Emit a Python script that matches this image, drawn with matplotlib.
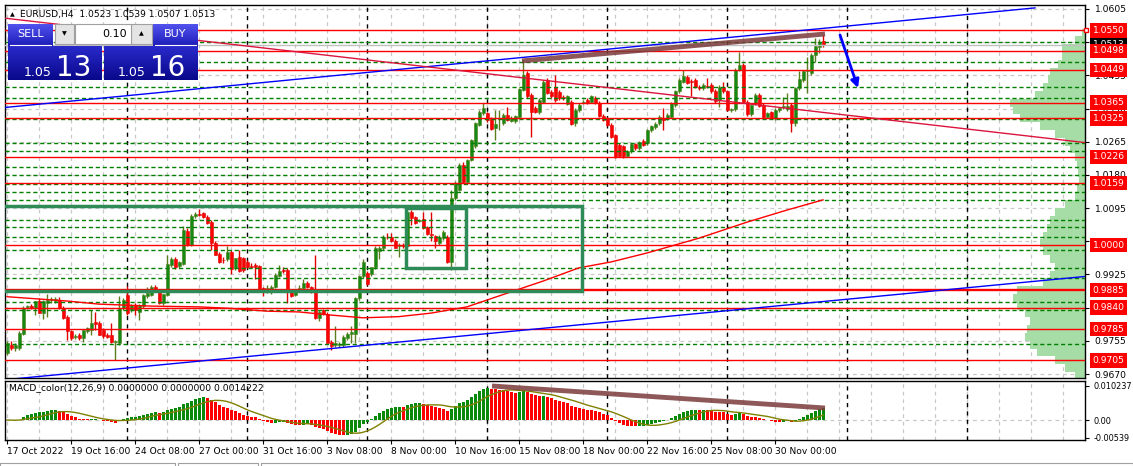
import matplotlib
matplotlib.use("Agg")
import matplotlib.pyplot as plt
import numpy as np
import pandas as pd
from matplotlib.patches import Rectangle
from matplotlib.colors import LinearSegmentedColormap

plt.rcParams["font.family"] = ["DejaVu Sans"]

W, H = 1133, 466
FS = 6.6

# EURUSD H4, one value per bar (bar 0 = 17 Oct 2022 00:00)
opens = [
    .9724, .9745, .9736, .9736, .9773, .9841, .9843, .9839, .9858, .9826,
    .9852, .9860, .9858, .9860, .9839, .9817, .9779, .9765, .9770, .9762,
    .9779, .9783, .9803, .9800, .9783, .9770, .9770, .9752, .9749, .9839,
    .9873, .9835, .9847, .9830, .9843, .9869, .9873, .9892, .9881, .9852,
    .9873, .9950, .9965, .9947, .9952, 1.0037, 1.0001, 1.0075, 1.0080, 1.0082,
    1.0073, 1.0060, 1.0005, .9978, .9963, .9965, .9983, .9941, .9969, .9966,
    .9958, .9947, .9950, .9947, .9890, .9883, .9879, .9894, .9922, .9937,
    .9937, .9881, .9873, .9886, .9890, .9903, .9893, .9881, .9813, .9833,
    .9824, .9753, .9745, .9745, .9745, .9762, .9773, .9773, .9864, .9920,
    .9928, .9926, .9943, .9984, .9992, 1.0022, 1.0020, 1.0011, .9997, 1.0001,
    .9997, 1.0086, 1.0072, 1.0063, 1.0067, 1.0046, 1.0029, 1.0024, 1.0005, 1.0018,
    1.0022, .9958, 1.0120, 1.0142, 1.0206, 1.0163, 1.0219, 1.0253, 1.0308, 1.0338,
    1.0338, 1.0325, 1.0300, 1.0323, 1.0312, 1.0334, 1.0319, 1.0317, 1.0329, 1.0398,
    1.0442, 1.0385, 1.0351, 1.0340, 1.0368, 1.0423, 1.0393, 1.0406, 1.0393, 1.0379,
    1.0362, 1.0368, 1.0312, 1.0347, 1.0365, 1.0372, 1.0368, 1.0378, 1.0365, 1.0331,
    1.0325, 1.0308, 1.0282, 1.0257, 1.0253, 1.0229, 1.0240, 1.0259, 1.0248, 1.0268,
    1.0261, 1.0295, 1.0302, 1.0312, 1.0325, 1.0325, 1.0329, 1.0359, 1.0394, 1.0419,
    1.0432, 1.0421, 1.0423, 1.0406, 1.0402, 1.0408, 1.0410, 1.0395, 1.0372, 1.0406,
    1.0394, 1.0347, 1.0348, 1.0449, 1.0462, 1.0368, 1.0336, 1.0364, 1.0385, 1.0359,
    1.0329, 1.0340, 1.0325, 1.0347, 1.0353, 1.0348, 1.0359, 1.0312, 1.0402, 1.0423,
    1.0445, 1.0440, 1.0487, 1.0507, 1.0523,
]
highs = [
    .9754, .9754, .9749, .9779, .9843, .9847, .9850, .9858, .9864, .9860,
    .9875, .9866, .9866, .9866, .9843, .9820, .9783, .9773, .9775, .9783,
    .9790, .9835, .9830, .9805, .9788, .9775, .9800, .9757, .9869, .9864,
    .9896, .9850, .9852, .9850, .9875, .9894, .9898, .9898, .9886, .9875,
    .9975, .9970, .9970, .9960, 1.0048, 1.0045, 1.0080, 1.0085, 1.0092, 1.0086,
    1.0078, 1.0064, 1.0010, .9982, .9970, .9997, .9988, .9967, .9988, .9970,
    .9963, .9954, .9954, .9950, .9894, .9897, .9897, .9928, .9950, .9945,
    .9941, .9886, .9886, .9897, .9913, .9908, .9896, .9975, .9833, .9836,
    .9828, .9758, .9792, .9752, .9770, .9777, .9792, .9866, .9924, .9964,
    .9935, .9945, .9997, .9997, 1.0025, 1.0030, 1.0032, 1.0015, 1.0005, 1.0005,
    1.0090, 1.0091, 1.0076, 1.0068, 1.0086, 1.0050, 1.0086, 1.0027, 1.0025, 1.0039,
    1.0027, 1.0142, 1.0165, 1.0210, 1.0212, 1.0222, 1.0273, 1.0316, 1.0345, 1.0364,
    1.0342, 1.0329, 1.0347, 1.0347, 1.0338, 1.0355, 1.0330, 1.0334, 1.0402, 1.0474,
    1.0447, 1.0389, 1.0356, 1.0376, 1.0423, 1.0428, 1.0397, 1.0436, 1.0398, 1.0385,
    1.0385, 1.0372, 1.0351, 1.0364, 1.0372, 1.0376, 1.0385, 1.0383, 1.0369, 1.0335,
    1.0329, 1.0312, 1.0286, 1.0262, 1.0257, 1.0244, 1.0263, 1.0263, 1.0268, 1.0272,
    1.0298, 1.0308, 1.0315, 1.0334, 1.0351, 1.0338, 1.0368, 1.0398, 1.0427, 1.0449,
    1.0436, 1.0425, 1.0427, 1.0410, 1.0415, 1.0428, 1.0415, 1.0400, 1.0410, 1.0419,
    1.0398, 1.0352, 1.0453, 1.0496, 1.0466, 1.0372, 1.0362, 1.0389, 1.0389, 1.0364,
    1.0342, 1.0344, 1.0351, 1.0353, 1.0379, 1.0389, 1.0364, 1.0406, 1.0447, 1.0449,
    1.0481, 1.0492, 1.0530, 1.0528, 1.0539,
]
lows = [
    .9719, .9732, .9728, .9732, .9770, .9836, .9836, .9822, .9826, .9810,
    .9817, .9853, .9852, .9837, .9811, .9758, .9757, .9760, .9758, .9753,
    .9775, .9770, .9783, .9770, .9762, .9762, .9749, .9707, .9745, .9835,
    .9822, .9830, .9822, .9809, .9839, .9865, .9869, .9880, .9850, .9848,
    .9869, .9945, .9940, .9942, .9948, .9997, .9997, 1.0070, 1.0075, 1.0070,
    1.0054, .9988, .9975, .9955, .9955, .9960, .9925, .9937, .9932, .9932,
    .9942, .9942, .9913, .9886, .9871, .9877, .9874, .9890, .9918, .9928,
    .9852, .9866, .9869, .9880, .9886, .9890, .9877, .9811, .9807, .9822,
    .9749, .9732, .9738, .9740, .9740, .9758, .9749, .9749, .9860, .9915,
    .9897, .9920, .9938, .9964, .9988, 1.0015, 1.0009, .9993, .9971, .9994,
    .9992, 1.0052, 1.0055, 1.0060, 1.0042, 1.0027, 1.0010, .9993, 1.0001, 1.0014,
    .9955, .9937, 1.0115, 1.0138, 1.0160, 1.0158, 1.0215, 1.0249, 1.0304, 1.0334,
    1.0315, 1.0295, 1.0270, 1.0295, 1.0308, 1.0318, 1.0315, 1.0313, 1.0325, 1.0394,
    1.0378, 1.0278, 1.0338, 1.0336, 1.0364, 1.0386, 1.0378, 1.0368, 1.0372, 1.0372,
    1.0358, 1.0308, 1.0304, 1.0342, 1.0362, 1.0362, 1.0364, 1.0362, 1.0328, 1.0318,
    1.0305, 1.0275, 1.0223, 1.0225, 1.0223, 1.0225, 1.0236, 1.0244, 1.0244, 1.0253,
    1.0257, 1.0291, 1.0298, 1.0308, 1.0295, 1.0321, 1.0325, 1.0355, 1.0390, 1.0415,
    1.0413, 1.0381, 1.0402, 1.0398, 1.0398, 1.0402, 1.0390, 1.0365, 1.0353, 1.0390,
    1.0343, 1.0342, 1.0344, 1.0445, 1.0364, 1.0332, 1.0332, 1.0360, 1.0353, 1.0325,
    1.0325, 1.0322, 1.0320, 1.0342, 1.0349, 1.0344, 1.0289, 1.0304, 1.0398, 1.0419,
    1.0391, 1.0436, 1.0470, 1.0492, 1.0507,
]
closes = [
    .9749, .9736, .9745, .9775, .9839, .9845, .9840, .9856, .9826, .9856,
    .9860, .9862, .9861, .9839, .9813, .9779, .9762, .9768, .9762, .9783,
    .9788, .9800, .9798, .9770, .9768, .9766, .9751, .9754, .9839, .9860,
    .9826, .9847, .9833, .9847, .9873, .9877, .9894, .9886, .9853, .9874,
    .9952, .9965, .9945, .9956, 1.0039, 1.0001, 1.0075, 1.0080, 1.0078, 1.0073,
    1.0056, 1.0005, .9975, .9958, .9961, .9983, .9938, .9966, .9935, .9937,
    .9945, .9944, .9945, .9888, .9881, .9890, .9894, .9924, .9935, .9933,
    .9881, .9871, .9883, .9890, .9903, .9893, .9879, .9813, .9830, .9824,
    .9749, .9743, .9749, .9748, .9765, .9773, .9777, .9864, .9921, .9958,
    .9901, .9943, .9992, .9992, 1.0022, 1.0020, 1.0011, .9994, 1.0001, .9997,
    1.0084, 1.0069, 1.0058, 1.0065, 1.0044, 1.0029, 1.0027, 1.0010, 1.0022, 1.0033,
    .9958, 1.0120, 1.0159, 1.0206, 1.0163, 1.0219, 1.0270, 1.0312, 1.0342, 1.0351,
    1.0321, 1.0297, 1.0311, 1.0327, 1.0334, 1.0321, 1.0327, 1.0331, 1.0399, 1.0436,
    1.0381, 1.0342, 1.0342, 1.0372, 1.0419, 1.0389, 1.0381, 1.0372, 1.0376, 1.0377,
    1.0381, 1.0310, 1.0347, 1.0359, 1.0368, 1.0364, 1.0381, 1.0365, 1.0331, 1.0321,
    1.0308, 1.0278, 1.0227, 1.0229, 1.0229, 1.0240, 1.0259, 1.0248, 1.0265, 1.0257,
    1.0295, 1.0304, 1.0311, 1.0328, 1.0321, 1.0334, 1.0364, 1.0394, 1.0423, 1.0433,
    1.0416, 1.0419, 1.0406, 1.0402, 1.0410, 1.0406, 1.0394, 1.0369, 1.0406, 1.0394,
    1.0347, 1.0349, 1.0449, 1.0462, 1.0368, 1.0336, 1.0359, 1.0385, 1.0357, 1.0329,
    1.0338, 1.0325, 1.0347, 1.0351, 1.0356, 1.0357, 1.0312, 1.0402, 1.0425, 1.0445,
    1.0449, 1.0487, 1.0509, 1.0521, 1.0513,
]

date_labels = ["17 Oct 2022", "19 Oct 16:00", "24 Oct 08:00", "27 Oct 00:00",
               "31 Oct 16:00", "3 Nov 08:00", "8 Nov 00:00", "10 Nov 16:00",
               "15 Nov 08:00", "18 Nov 00:00", "22 Nov 16:00", "25 Nov 08:00",
               "30 Nov 00:00"]
label_every = 16
grid_every = 8
week_bars = 30

price_ticks = [1.0605, 1.0520, 1.0435, 1.0350, 1.0265, 1.0180, 1.0095,
               1.0010, 0.9925, 0.9840, 0.9755, 0.9670]
red_levels = [1.0550, 1.0498, 1.0449, 1.0365, 1.0325, 1.0226, 1.0159,
              1.0000, 0.9885, 0.9840, 0.9785, 0.9705]
green_levels = [1.0521, 1.0469, 1.0405, 1.0377, 1.0323, 1.0262, 1.0241,
                1.0201, 1.0180, 1.0157, 1.0137, 1.0116, 1.0065, 1.0047,
                1.0021, 0.9988, 0.9942, 0.9917, 0.9855, 0.9834, 0.9747]
bid = 1.0513

# moving average
ma_bars = [0, 15, 23, 36, 48, 56, 65, 73, 81, 89, 98, 106, 115, 123, 134,
           143, 151, 160, 173, 185, 195, 204]
ma_vals = [0.9868, 0.9857, 0.9849, 0.9844, 0.9842, 0.9838, 0.9831, 0.9829,
           0.9821, 0.9814, 0.9817, 0.9826, 0.9842, 0.9870, 0.9908, 0.9942,
           0.9957, 0.9980, 1.0018, 1.0059, 1.0090, 1.0116]

# volume profile (price bins of 0.002, relative size)
profile_prices = [1.0545, 1.0525, 1.0505, 1.0485, 1.0465, 1.0445, 1.0425,
                  1.0405, 1.0385, 1.0365, 1.0345, 1.0325, 1.0305, 1.0285,
                  1.0265, 1.0245, 1.0225, 1.0205, 1.0185, 1.0165, 1.0145,
                  1.0125, 1.0105, 1.0085, 1.0065, 1.0045, 1.0025, 1.0005,
                  0.9985, 0.9965, 0.9945, 0.9925, 0.9905, 0.9885, 0.9865,
                  0.9845, 0.9825, 0.9805, 0.9785, 0.9765, 0.9745, 0.9725,
                  0.9705, 0.9685, 0.9665]
profile_size = [3, 10, 23, 23, 27, 35, 37, 42, 50, 75, 72, 65, 45, 30, 20,
                15, 10, 8, 7, 6, 8, 10, 20, 30, 35, 38, 42, 45, 42, 35, 30,
                35, 42, 68, 72, 68, 60, 55, 58, 60, 55, 48, 30, 20, 10]

# drawn objects: (bar, price) end points
upper_channel = [(-0.5, 1.03527), (257.0, 1.06078)]
lower_channel = [(-0.5, 0.96554), (269.5, 0.99198)]
falling_line = [(-0.5, 1.05814), (269.5, 1.02628)]
price_top_line = [(128.75, 1.0472), (204.5, 1.0541)]
macd_top_line = [(121.25, 0.010237), (204.5, 0.00361)]
big_box = (-1.0, 0.9882, 143.75, 1.00995)
small_box = (99.75, 0.99408, 114.75, 1.00945)
arrow_from = (208.25, 1.05384)
arrow_to = (212.75, 1.04026)

macd_ticks = [0.010237, 0.0, -0.00539]
macd_tick_labels = ["0.010237", "0.00", "-0.00539"]

n = len(closes)
assert len(opens) == len(highs) == len(lows) == n

o = np.array(opens)
h = np.array(highs)
l = np.array(lows)
c = np.array(closes)
x = np.arange(n)

fig = plt.figure(figsize=(W / 100, H / 100), dpi=100)
fig.patch.set_facecolor("white")


def fx(px):
    return px / W


def fy(py):
    return 1 - py / H


ax = fig.add_axes([fx(5), fy(378), fx(1085) - fx(5), fy(5) - fy(378)])
am = fig.add_axes([fx(5), fy(440), fx(1085) - fx(5), fy(381) - fy(440)])

XLIM = (-0.5, 269.5)
for a in (ax, am):
    a.set_xlim(*XLIM)
    for s in a.spines.values():
        s.set_linewidth(1)
        s.set_color("black")
    for b in range(0, 270, grid_every):
        a.axvline(b, color="#c8c8c8", lw=0.9, ls=(0, (3, 3)), zorder=0.5)
    for b in range(week_bars, 270, week_bars):
        a.axvline(b, color="black", lw=1, ls=(0, (3, 3)), zorder=2)

ax.set_ylim(0.96598, 1.06152)
for t in price_ticks:
    ax.axhline(t, color="#c8c8c8", lw=0.9, ls=(0, (3, 3)), zorder=0.5)

# volume profile on the right edge
pw = np.array(profile_size) / 4.0
ax.barh(profile_prices, pw, left=XLIM[1] - pw, height=0.002,
        color="#a6dca6", linewidth=0, zorder=1)

# candles
up = c >= o
wick_col = np.where(up, "#5a7d1e", "#e00000")
body_col = np.where(up, "#138a13", "#ff0000")
ax.vlines(x, l, h, colors=wick_col, lw=1, zorder=3)
ax.bar(x, np.maximum(np.abs(c - o), 0.00012), bottom=np.minimum(o, c),
       width=0.75, color=body_col, edgecolor=wick_col, linewidth=0.4, zorder=4)

# levels
ax.axhline(bid, color="#c0c0c0", lw=1, zorder=4)
for p in green_levels:
    ax.axhline(p, color="#008000", lw=1, ls=(0, (3, 2)), zorder=5)
for p in red_levels:
    ax.axhline(p, color="#ff0000", lw=1.7 if p == 0.9885 else 1, zorder=5)

ax.plot(ma_bars, ma_vals, color="#ff0000", lw=1, zorder=5)

for line, col in ((upper_channel, "#0000ff"), (lower_channel, "#0000ff"),
                  (falling_line, "#dc143c")):
    ax.plot([line[0][0], line[1][0]], [line[0][1], line[1][1]],
            color=col, lw=1, zorder=6)

for bx in (big_box, small_box):
    ax.add_patch(Rectangle((bx[0], bx[1]), bx[2] - bx[0], bx[3] - bx[1],
                           fill=False, ec="#2e8b57", lw=2.5, zorder=6))

ax.plot([price_top_line[0][0], price_top_line[1][0]],
        [price_top_line[0][1], price_top_line[1][1]],
        color="#7b3b3b", alpha=0.85, lw=3.5, solid_capstyle="butt", zorder=7)
ax.annotate("", xy=arrow_to, xytext=arrow_from,
            arrowprops=dict(arrowstyle="-|>", color="#0000ff", lw=2,
                            mutation_scale=12, shrinkA=0, shrinkB=0),
            zorder=7)

ax.set_xticks([])
ax.yaxis.tick_right()
ax.set_yticks(price_ticks)
ax.set_yticklabels([f"{t:.4f}" for t in price_ticks])
ax.tick_params(axis="y", length=3, width=0.8, pad=4, labelsize=FS)

ytr = ax.get_yaxis_transform()
lx = 1 + 7.5 / 1080
ax.text(lx, bid, f"{bid:.4f}", transform=ytr, ha="left", va="center",
        fontsize=FS, color="white", clip_on=False, zorder=30,
        bbox=dict(boxstyle="square,pad=0.3", fc="black", ec="none"))
for p in red_levels:
    ax.text(lx, p, f"{p:.4f}", transform=ytr, ha="left", va="center",
            fontsize=FS, color="white", clip_on=False, zorder=31,
            bbox=dict(boxstyle="square,pad=0.3", fc="#ff0000", ec="none"))
ax.plot([XLIM[1] + 0.2], [red_levels[0]], marker="s", ms=3.5, mfc="white",
        mec="#ff0000", mew=1, clip_on=False, zorder=32)

# MACD
cs = pd.Series(closes)
macd = (cs.ewm(span=12, adjust=False).mean()
        - cs.ewm(span=26, adjust=False).mean()).values
signal = pd.Series(macd).rolling(9, min_periods=1).mean().values
mcol = ["#0a8a0a" if i == 0 or macd[i] >= macd[i - 1] else "#ff0000"
        for i in range(n)]

am.set_ylim(-0.00602, 0.01174)
am.axhline(0, color="#c8c8c8", lw=0.9, ls=(0, (3, 3)), zorder=0.5)
am.bar(x, macd, width=0.75, color=mcol, linewidth=0, zorder=3)
am.plot(x, signal, color="#808000", lw=1, zorder=4)
am.plot([macd_top_line[0][0], macd_top_line[1][0]],
        [macd_top_line[0][1], macd_top_line[1][1]],
        color="#7b3b3b", alpha=0.85, lw=3.5, solid_capstyle="butt", zorder=7)
am.yaxis.tick_right()
am.set_yticks(macd_ticks)
am.set_yticklabels(macd_tick_labels)
am.tick_params(axis="y", length=3, width=0.8, pad=3, labelsize=5.9)
am.set_xticks(range(0, label_every * len(date_labels), label_every))
am.set_xticklabels(date_labels, ha="left")
am.tick_params(axis="x", length=3, width=0.8, pad=2, labelsize=FS)
am.text(0.004, 0.88, "MACD_color(12,26,9) 0.0000000 0.0000000 0.0014222",
        transform=am.transAxes, fontsize=FS, va="center", ha="left", zorder=10)

# overlay in pixel coordinates: header and one-click trading panel
ov = fig.add_axes([0, 0, 1, 1], zorder=50)
ov.set_xlim(0, W)
ov.set_ylim(H, 0)
ov.axis("off")

ov.text(10, 14.5, "\u25b2", fontsize=4.5, ha="left", va="center")
ov.text(20, 14.5, "EURUSD,H4  1.0523 1.0539 1.0507 1.0513", fontsize=FS,
        ha="left", va="center")

light = LinearSegmentedColormap.from_list("b1", ["#5252ee", "#1c1cb8"])
dark = LinearSegmentedColormap.from_list("b2", ["#2a2acc", "#08088a"])
grad = np.linspace(0, 1, 64).reshape(-1, 1)


def gbox(x0, y0, x1, y1, cmap):
    ov.imshow(grad, cmap=cmap, extent=(x0, x1, y1, y0), aspect="auto",
              interpolation="bilinear", zorder=1)


gbox(8, 24, 53, 46, light)
gbox(153, 24, 198, 46, light)
gbox(8, 46, 102, 80, dark)
gbox(104, 46, 198, 80, dark)
for x0, x1 in ((55, 74), (131, 152)):
    ov.add_patch(Rectangle((x0, 24), x1 - x0, 20, fc="#e4e4e4", ec="#a0a0a0",
                           lw=0.8, zorder=2))
ov.add_patch(Rectangle((75, 24), 56, 20, fc="white", ec="#a0a0a0", lw=0.8,
                       zorder=2))
ov.text(64.5, 33.5, "\u25bc", fontsize=4.5, ha="center", va="center", zorder=3)
ov.text(141.5, 33.5, "\u25b2", fontsize=4.5, ha="center", va="center", zorder=3)
ov.text(127, 34, "0.10", fontsize=8, ha="right", va="center", zorder=3)
ov.text(30.5, 34, "SELL", fontsize=8, color="white", ha="center", va="center",
        zorder=3)
ov.text(175.5, 34, "BUY", fontsize=8, color="white", ha="center", va="center",
        zorder=3)
for x0, x1 in ((10, 51), (155, 196)):
    ov.plot([x0, x1], [44.5, 44.5], color="white", lw=0.8, zorder=3)
ov.text(52, 75.5, "1.05", fontsize=9, color="white", ha="right",
        va="baseline", zorder=3)
ov.text(56, 76, "13", fontsize=20, color="white", ha="left", va="baseline",
        zorder=3)
ov.text(146, 75.5, "1.05", fontsize=9, color="white", ha="right",
        va="baseline", zorder=3)
ov.text(150, 76, "16", fontsize=20, color="white", ha="left", va="baseline",
        zorder=3)
ov.set_xlim(0, W)
ov.set_ylim(H, 0)

# tab strip at the very bottom
for x0, x1 in ((0, 175), (178, 258), (261, W)):
    ov.plot([x0, x0, x1, x1], [466, 463, 463, 466], color="#a0a0a0", lw=0.8)

fig.savefig("out.png", dpi=100)
